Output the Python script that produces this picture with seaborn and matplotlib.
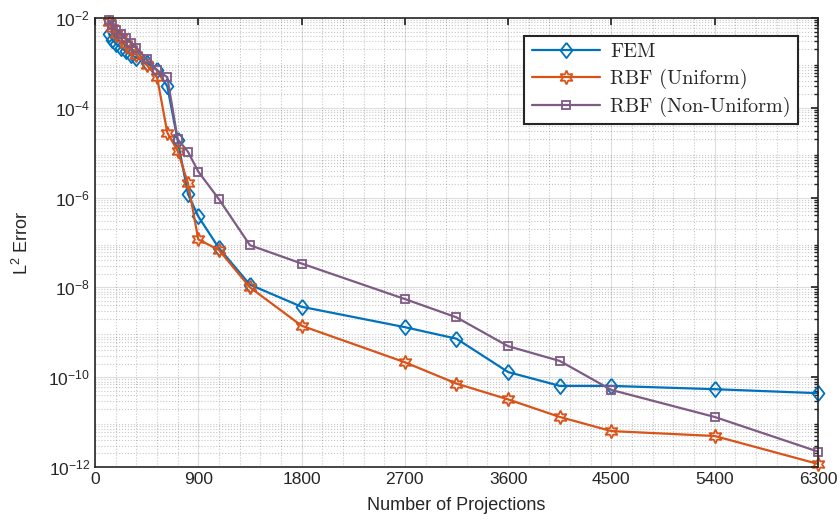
import numpy as np
import pandas as pd
import matplotlib
matplotlib.use('Agg')
import matplotlib.pyplot as plt
import matplotlib.ticker as mticker
import seaborn as sns

# number of projections (shared by all three methods)
projections = [120, 150, 180, 225, 270, 315, 360, 450, 540, 630, 720, 810, 900,
               1080, 1350, 1800, 2700, 3150, 3600, 4050, 4500, 5400, 6300]

fem_err = [4.5e-3, 3.3e-3, 2.7e-3, 2.2e-3, 1.8e-3, 1.5e-3, 1.3e-3, 1.0e-3, 7.0e-4,
           3.0e-4, 1.9e-5, 1.2e-6, 3.8e-7, 7.5e-8, 1.15e-8, 3.7e-9, 1.3e-9, 7.2e-10,
           1.3e-10, 6.4e-11, 6.4e-11, 5.4e-11, 4.4e-11]
rbf_uni_err = [8.0e-3, 6.0e-3, 4.5e-3, 3.5e-3, 2.6e-3, 2.0e-3, 1.5e-3, 9.0e-4, 4.9e-4,
               2.8e-5, 1.1e-5, 2.1e-6, 1.17e-7, 6.8e-8, 1.0e-8, 1.4e-9, 2.15e-10, 7.2e-11,
               3.2e-11, 1.3e-11, 6.3e-12, 4.9e-12, 1.17e-12]
rbf_non_err = [9.0e-3, 7.0e-3, 5.5e-3, 4.3e-3, 3.5e-3, 2.8e-3, 2.2e-3, 1.2e-3, 6.9e-4,
               4.8e-4, 2.0e-5, 1.05e-5, 3.8e-6, 9.2e-7, 8.7e-8, 3.4e-8, 5.5e-9, 2.15e-9,
               4.9e-10, 2.3e-10, 5.2e-11, 1.3e-11, 2.2e-12]

labels = ['FEM', 'RBF (Uniform)', 'RBF (Non-Uniform)']
colors = ['#0072BD', '#D95319', '#7E5A85']
# matlab-style diamond (a bit wider than matplotlib's 'd')
diamond = [(0, 1), (0.78, 0), (0, -1), (-0.78, 0), (0, 1)]
markers = [diamond, (6, 1, 0), 's']
msizes = [11, 10, 6]

sns.set_theme(style='white')
plt.rcParams['font.family'] = ['Liberation Sans', 'DejaVu Sans']
plt.rcParams['mathtext.fontset'] = 'custom'
plt.rcParams['mathtext.rm'] = 'Liberation Sans'
plt.rcParams['mathtext.it'] = 'Liberation Sans:italic'

fig = plt.figure(figsize=(8.4, 5.26), dpi=100)
ax = fig.add_axes([0.1131, 0.1122, 0.8607, 0.8536])

series = [fem_err, rbf_uni_err, rbf_non_err]
for lab, err, c, m, ms in zip(labels, series, colors, markers, msizes):
    df = pd.DataFrame({'proj': projections, 'err': err})
    sns.lineplot(data=df, x='proj', y='err', ax=ax, color=c, marker=m,
                 markersize=ms, markerfacecolor='none', markeredgecolor=c,
                 markeredgewidth=1.3, linewidth=1.6, label=lab, clip_on=False)

ax.set_yscale('log')
ax.set_xlim(0, 6300)
ax.set_ylim(1e-12, 1e-2)
ax.set_xticks(np.arange(0, 6301, 900))
ax.xaxis.set_minor_locator(mticker.AutoMinorLocator(5))
ax.set_yticks([1e-12, 1e-10, 1e-8, 1e-6, 1e-4, 1e-2])
ax.yaxis.set_minor_locator(mticker.LogLocator(base=10, subs=np.arange(2, 10), numticks=50))
ax.yaxis.set_minor_formatter(mticker.NullFormatter())

gray = '#262626'
ax.grid(True, which='major', color=gray, alpha=0.15, linewidth=0.8)
ax.grid(True, which='minor', color=gray, alpha=0.25, linestyle=':', linewidth=0.8)
for sp in ax.spines.values():
    sp.set_visible(True)
    sp.set_color(gray)
    sp.set_linewidth(1.2)
ax.tick_params(which='both', direction='in', top=True, right=True, colors=gray,
               labelsize=12.5, labelcolor=gray)
ax.tick_params(which='major', length=5)
ax.tick_params(which='minor', length=3)
ax.tick_params(axis='x', which='minor', length=0)

ax.set_xlabel('Number of Projections', fontsize=13, color=gray, labelpad=7)
ax.set_ylabel('L$^{2}$ Error', fontsize=13, color=gray, labelpad=12)

leg = ax.legend(loc='upper right', bbox_to_anchor=(0.972, 0.96), fancybox=False,
                frameon=True, framealpha=1, edgecolor=gray, borderaxespad=0,
                prop={'family': 'cmr10', 'size': 14.5}, handlelength=3.4,
                labelspacing=0.38, borderpad=0.35, handletextpad=0.5)
leg.get_frame().set_linewidth(1.5)

fig.savefig('out.png', dpi=100)
